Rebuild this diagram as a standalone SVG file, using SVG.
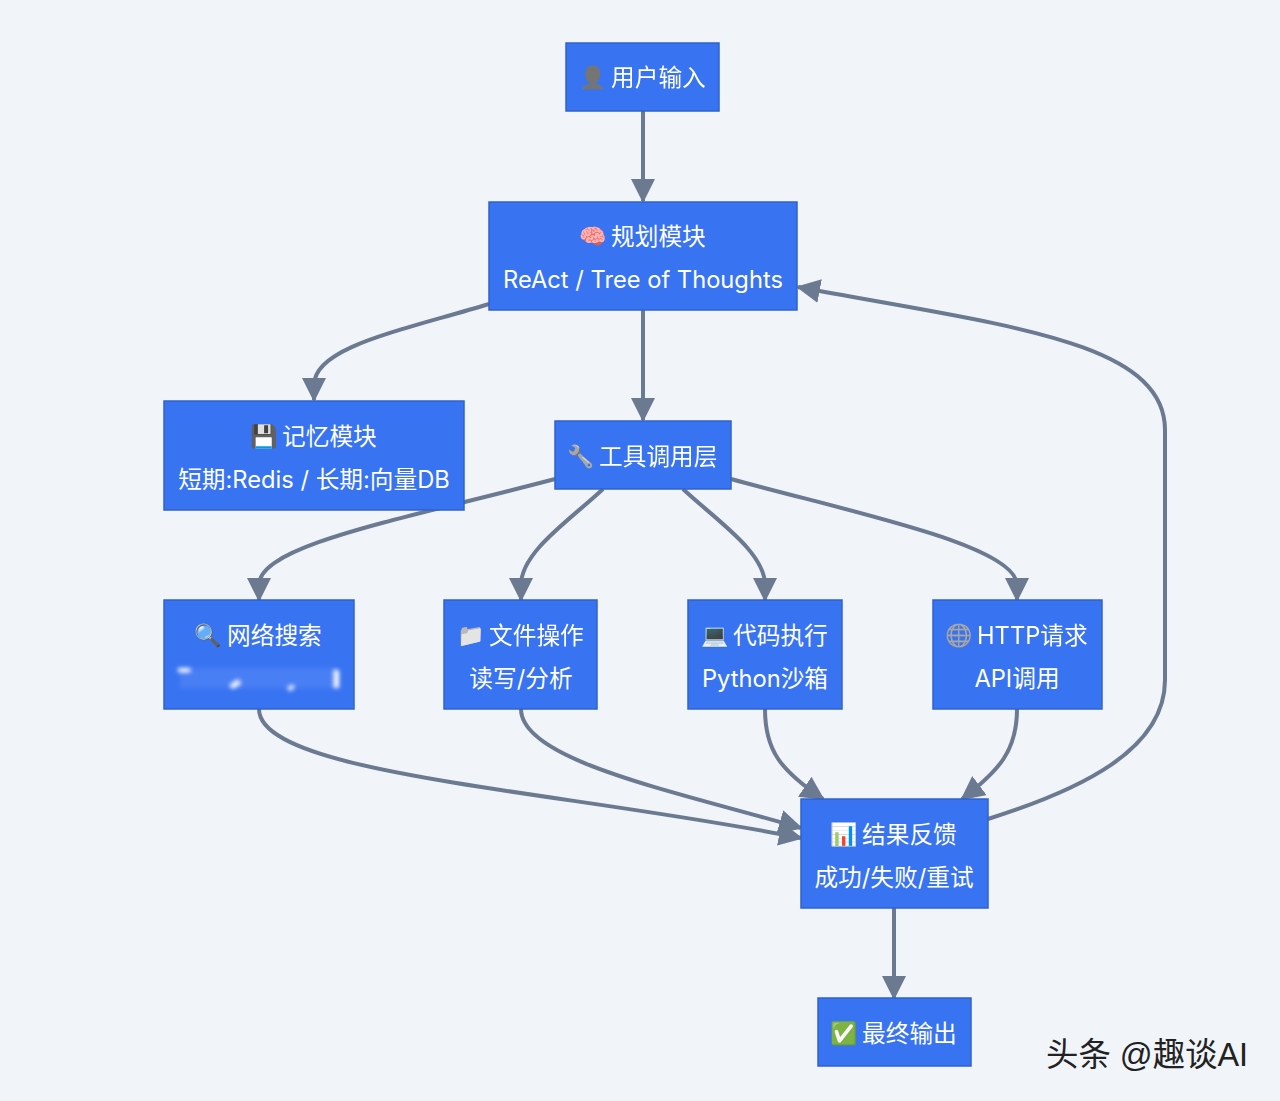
<svg xmlns="http://www.w3.org/2000/svg" width="1280" height="1101" viewBox="0 0 1280 1101">
<defs>
<style>
.n{fill:#3873f2;stroke:#2f62cc;stroke-width:1.5}
.t{fill:#fff;font-family:"Inter","Noto Sans CJK SC","Liberation Sans",sans-serif;font-size:23.7px;text-anchor:middle}
.l{text-anchor:start}
.e{font-size:22px}
.g{filter:url(#gray)}
.c{fill:none;stroke:#6b7a90;stroke-width:4}
.w{fill:#222;font-family:"Liberation Sans","Noto Sans CJK SC",sans-serif;font-size:32.4px}
</style>
<marker id="a" markerUnits="userSpaceOnUse" markerWidth="24" markerHeight="24" viewBox="0 0 24 24" refX="22" refY="12" orient="auto"><path d="M0 0L24 12L0 24Z" fill="#6b7a90"/></marker>
<filter id="b" x="-20%" y="-200%" width="140%" height="500%"><feGaussianBlur stdDeviation="2"/></filter>
<filter id="gray" x="-5%" y="-20%" width="110%" height="140%"><feColorMatrix type="saturate" values="0"/></filter>
</defs>
<rect width="1280" height="1101" fill="#f1f5fa"/>
<g id="connectors">
<path class="c" marker-end="url(#a)" d="M643 111V201"/>
<path class="c" marker-end="url(#a)" d="M489 304C400 331 314 347 314 385V400"/>
<path class="c" marker-end="url(#a)" d="M643 310V420"/>
<path class="c" marker-end="url(#a)" d="M555 479C400 520 259 545 259 585V600"/>
<path class="c" marker-end="url(#a)" d="M603 489C570 520 521 552 521 585V600"/>
<path class="c" marker-end="url(#a)" d="M683 489C716 520 765 552 765 585V600"/>
<path class="c" marker-end="url(#a)" d="M731 479C850 512 1017 545 1017 585V600"/>
<path class="c" marker-end="url(#a)" d="M259 709C259 775 560 790 801 838"/>
<path class="c" marker-end="url(#a)" d="M521 709C521 760 670 790 801 828"/>
<path class="c" marker-end="url(#a)" d="M765 709C765 750 780 770 823 799"/>
<path class="c" marker-end="url(#a)" d="M1017 709C1017 750 1000 770 962 799"/>
<path class="c" marker-end="url(#a)" d="M988 819C1080 790 1165 750 1165 680V430C1165 340 1000 325 798 287"/>
<path class="c" marker-end="url(#a)" d="M894 908V998"/>
</g>
<g id="n1"><rect class="n" x="566" y="43" width="153" height="68"/><text class="t l g" y="85"><tspan class="e" x="579">👤</tspan> <tspan x="611" y="86">用户输入</tspan></text></g>
<g id="n2"><rect class="n" x="489" y="202" width="308" height="108"/><text class="t l" y="244"><tspan class="e" x="579">🧠</tspan> <tspan x="611" y="245">规划模块</tspan></text><text class="t" x="643" y="288">ReAct / Tree of Thoughts</text></g>
<g id="n3"><rect class="n" x="164" y="401" width="300" height="109"/><text class="t l" y="444"><tspan class="e" x="250">💾</tspan> <tspan x="282" y="445">记忆模块</tspan></text><text class="t" x="314" y="488">短期:Redis / 长期:向量DB</text></g>
<g id="n4"><rect class="n" x="555" y="421" width="176" height="68"/><text class="t l g" y="464"><tspan class="e" x="567">🔧</tspan> <tspan x="599" y="465">工具调用层</tspan></text></g>
<g id="n5"><rect class="n" x="164" y="600" width="190" height="109"/><text class="t l" y="643"><tspan class="e" x="194">🔍</tspan> <tspan x="227" y="644">网络搜索</tspan></text>
<g filter="url(#b)"><rect x="180" y="668" width="156" height="20" fill="#5d8ff8" opacity=".45"/><g fill="#fff"><rect x="178" y="668" width="12" height="4"/><rect x="230" y="682" width="10" height="5" transform="rotate(-35 235 684)"/><rect x="288" y="686" width="6" height="4" transform="rotate(-35 291 688)"/><rect x="334" y="670" width="5" height="18"/></g></g></g>
<g id="n6"><rect class="n" x="444" y="600" width="153" height="109"/><text class="t l g" y="643"><tspan class="e" x="457">📁</tspan> <tspan x="489" y="644">文件操作</tspan></text><text class="t" x="521" y="687">读写/分析</text></g>
<g id="n7"><rect class="n" x="688" y="600" width="154" height="109"/><text class="t l" y="643"><tspan class="e" x="701">💻</tspan> <tspan x="733" y="644">代码执行</tspan></text><text class="t" x="765" y="687">Python沙箱</text></g>
<g id="n8"><rect class="n" x="933" y="600" width="169" height="109"/><text class="t l g" y="643"><tspan class="e" x="945">🌐</tspan> <tspan x="977" y="644">HTTP请求</tspan></text><text class="t" x="1017" y="687">API调用</text></g>
<g id="n9"><rect class="n" x="801" y="799" width="187" height="109"/><text class="t l" y="842"><tspan class="e" x="830">📊</tspan> <tspan x="862" y="843">结果反馈</tspan></text><text class="t" x="894" y="886">成功/失败/重试</text></g>
<g id="n10"><rect class="n" x="818" y="998" width="153" height="68"/><text class="t l" y="1041"><tspan class="e" x="830">✅</tspan> <tspan x="862" y="1042">最终输出</tspan></text></g>
<text class="w" x="1046" y="1066">头条 @趣谈AI</text>
</svg>
